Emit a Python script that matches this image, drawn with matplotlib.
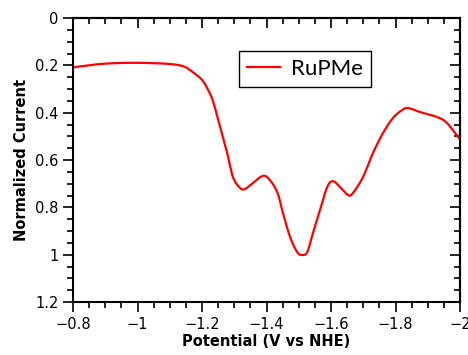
import matplotlib.pyplot as plt
import numpy as np
from matplotlib.ticker import MultipleLocator, FuncFormatter

# du lieu doc tu hinh
potential = [-0.800, -0.884, -0.967, -1.039, -1.101, -1.141, -1.163, -1.184, -1.203, -1.219,
             -1.234, -1.256, -1.278, -1.296, -1.318, -1.333, -1.358, -1.386, -1.405, -1.433,
             -1.451, -1.473, -1.495, -1.510, -1.526, -1.544, -1.566, -1.588, -1.606, -1.628,
             -1.653, -1.668, -1.699, -1.730, -1.761, -1.792, -1.820, -1.839, -1.876, -1.929,
             -1.960, -1.994, -2.000]
current = [0.208, 0.194, 0.189, 0.190, 0.194, 0.203, 0.220, 0.241, 0.266, 0.304,
           0.351, 0.460, 0.570, 0.672, 0.718, 0.722, 0.697, 0.668, 0.676, 0.735,
           0.824, 0.925, 0.989, 1.001, 0.989, 0.908, 0.811, 0.714, 0.689, 0.714,
           0.748, 0.739, 0.672, 0.570, 0.486, 0.422, 0.389, 0.380, 0.397, 0.418,
           0.444, 0.503, 0.511]

# lam muot duong cong (catmull-rom)
P = np.column_stack([potential, current])
P = np.vstack([P[0], P, P[-1]])
pts = []
for i in range(1, len(P) - 2):
    p0, p1, p2, p3 = P[i - 1], P[i], P[i + 1], P[i + 2]
    for u in np.linspace(0, 1, 12, endpoint=False):
        pts.append(0.5 * (2 * p1 + (-p0 + p2) * u + (2 * p0 - 5 * p1 + 4 * p2 - p3) * u**2
                          + (-p0 + 3 * p1 - 3 * p2 + p3) * u**3))
pts.append(P[-2])
pts = np.array(pts)

fig = plt.figure(figsize=(4.68, 3.55), dpi=100)
ax = fig.add_axes([0.156, 0.149, 0.827, 0.800])

ax.plot(pts[:, 0], pts[:, 1], color='#ff0000', lw=1.6, label='RuPMe')

ax.set_xlim(-0.8, -2)
ax.set_ylim(1.2, 0)

def fmt(v, pos):
    s = ('%g' % round(v, 3)).replace('-', '\u2212')
    return s

ax.xaxis.set_major_locator(MultipleLocator(0.2))
ax.xaxis.set_minor_locator(MultipleLocator(0.05))
ax.yaxis.set_major_locator(MultipleLocator(0.2))
ax.yaxis.set_minor_locator(MultipleLocator(0.05))
ax.xaxis.set_major_formatter(FuncFormatter(fmt))
ax.yaxis.set_major_formatter(FuncFormatter(fmt))

for s in ax.spines.values():
    s.set_linewidth(1.5)

ax.tick_params(which='major', direction='out', length=7, width=1.2, labelsize=10.5)
ax.tick_params(which='minor', direction='out', length=4, width=1.2)

# truc tren va truc phai, vach huong vao trong
top = ax.secondary_xaxis('top')
top.xaxis.set_major_locator(MultipleLocator(0.2))
top.xaxis.set_minor_locator(MultipleLocator(0.05))
top.tick_params(which='major', direction='in', length=7, width=1.2, labeltop=False)
top.tick_params(which='minor', direction='in', length=4, width=1.2)
right = ax.secondary_yaxis('right')
right.yaxis.set_major_locator(MultipleLocator(0.2))
right.yaxis.set_minor_locator(MultipleLocator(0.05))
right.tick_params(which='major', direction='in', length=7, width=1.2, labelright=False)
right.tick_params(which='minor', direction='in', length=4, width=1.2)
for sec in (top, right):
    for s in sec.spines.values():
        s.set_linewidth(1.5)

ax.set_xlabel('Potential (V vs NHE)', fontsize=10.5, fontweight='bold', labelpad=2)
ax.set_ylabel('Normalized Current', fontsize=10.5, fontweight='bold', labelpad=4)

leg = ax.legend(loc='upper left', bbox_to_anchor=(239 / 468, 1 - 51 / 355),
                bbox_transform=fig.transFigure, borderaxespad=0, fancybox=False,
                framealpha=1, edgecolor='black', handlelength=1.5, handletextpad=0.5,
                borderpad=0.35, prop={'family': 'Lato', 'size': 16})
leg.get_frame().set_linewidth(1.0)

fig.savefig('out.png', dpi=100)
